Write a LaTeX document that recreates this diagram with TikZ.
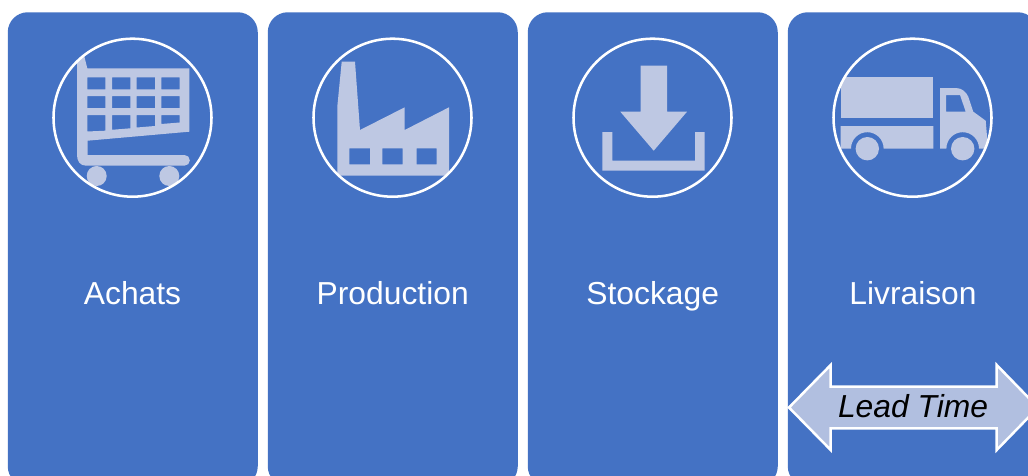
\documentclass[tikz,border=0pt]{standalone}
\usepackage{fontspec}
\setmainfont{Liberation Sans}
\definecolor{cardblue}{HTML}{4472C4}
\definecolor{iconfill}{HTML}{BEC8E3}
\definecolor{arrowfill}{HTML}{B1BFE0}
\tikzset{
  cardbox/.style={anchor=north west,fill=cardblue,draw=none,rounded corners=15pt,minimum width=187.5pt,minimum height=355.5pt,inner sep=0pt},
  ring/.style={circle,draw=white,line width=1.9pt,minimum size=118.5pt,inner sep=0pt},
  cardlabel/.style={anchor=base,text=white,font=\fontsize{23.85}{28}\selectfont,inner sep=0pt},
  icon/.style={fill=iconfill,draw=none,even odd rule},
}
\begin{document}
\begin{tikzpicture}[x=0.75pt,y=-0.75pt]
\useasboundingbox (0,0) rectangle (1028,475);
\clip (0,0) rectangle (1028,475);
\fill[white] (0,0) rectangle (1028,475);
% cards
\node[cardbox] (c1) at (7.5,12) {};
\node[cardbox] (c2) at (267.5,12) {};
\node[cardbox] (c3) at (527.5,12) {};
\node[cardbox] (c4) at (787.5,12) {};
% cart
\begin{scope}
\clip (132.5,117.7) circle (79);
\fill[icon] (77,50) -- (84,55) -- (87.3,68.3) -- (189.3,68.3) -- (189.3,131.7) -- (87.5,140.7) -- (87.5,155)
  -- (184.5,155) arc[start angle=-90,end angle=90,radius=5.35] -- (86,165.7)
  .. controls (80,165.7) and (77,161) .. (77,155) -- cycle
  (87.3,77.3) rectangle (105.3,89.3) (112,77.3) rectangle (130.3,89.3) (136.7,77.3) rectangle (155,89.3) (161.3,77.3) rectangle (179.7,89.3)
  (87.3,96) rectangle (105.3,108) (112,96) rectangle (130.3,108) (136.7,96) rectangle (155,108) (161.3,96) rectangle (179.7,108)
  (87.3,115) -- (105.3,115) -- (105.3,130.7) -- (87.3,131.5) -- cycle
  (112,115) -- (130.3,115) -- (130.3,128.3) -- (112,129.8) -- cycle
  (136.7,115) -- (155,115) -- (155,126) -- (136.7,127.5) -- cycle
  (161.3,115) -- (179.7,115) -- (179.7,122.5) -- (161.3,124) -- cycle;
\fill[icon] (96.7,176) circle (10) (169.3,176) circle (10);
\end{scope}
\node[ring] (r1) at (132.5,117.7) {};
% factory
\begin{scope}
\clip (392.5,117.7) circle (79);
\fill[icon] (337.3,175.5) -- (337.3,106.7) -- (341.7,61.7) -- (355,61.7) -- (360,130) -- (404.7,107.3) -- (404.7,130) -- (449,107.3) -- (449,175.5) -- cycle
  (349.3,148.3) rectangle (370,164.3) (382.3,148.3) rectangle (402.7,164.3) (416.7,148.3) rectangle (436.7,164.3);
\end{scope}
\node[ring] (r2) at (392.5,117.7) {};
% download
\fill[icon] (640.7,65.7) -- (667,65.7) -- (667,111.7) -- (687,111.7) -- (653.7,150.7) -- (620.3,111.7) -- (640.7,111.7) -- cycle;
\fill[icon] (602.3,132) -- (612.3,132) -- (612.3,160.7) -- (695,160.7) -- (695,132) -- (704.7,132) -- (704.7,170.7) -- (602.3,170.7) -- cycle;
\node[ring] (r3) at (652.5,117.7) {};
% truck
\begin{scope}
\clip (912.5,117.7) circle (79);
\fill[icon] (840.7,77.3) rectangle (933.3,117.7);
\fill[icon] (840.7,126) -- (933.3,126) -- (933.3,148.5) -- (883.6,148.5) arc[start angle=0,end angle=-180,radius=16.3] -- (840.7,148.5) -- cycle;
\fill[icon] (867.3,148.7) circle (11.7);
\fill[icon] (940,88) -- (956,88) .. controls (962,88) and (966,92) .. (968.3,96.7) -- (973.3,111.7) -- (985.7,120.7) -- (988,148.5)
  -- (979,148.5) arc[start angle=0,end angle=-180,radius=16.3] -- (940,148.5) -- cycle
  (946,95) -- (960,95) -- (965.7,111.7) -- (946,111.7) -- cycle;
\fill[icon] (962.7,148.7) circle (11.7);
\end{scope}
\node[ring] (r4) at (912.5,117.7) {};
% labels
\node[cardlabel] (t1) at (132.5,304.7) {Achats};
\node[cardlabel] (t2) at (392.7,304.7) {Production};
\node[cardlabel] (t3) at (652.7,304.7) {Stockage};
\node[cardlabel] (t4) at (913,304.7) {Livraison};
% lead-time arrow
\draw[white,line width=1.9pt,fill=arrowfill,miter limit=10] (789,407.5) -- (830.7,365) -- (830.7,386.7) -- (996.7,386.7) -- (996.7,365) -- (1038,407.5) -- (996.7,450) -- (996.7,428.3) -- (830.7,428.3) -- (830.7,450) -- cycle;
\node[cardlabel,text=black] (lt) at (913,417.2) {\itshape Lead Time};
\end{tikzpicture}
\end{document}
